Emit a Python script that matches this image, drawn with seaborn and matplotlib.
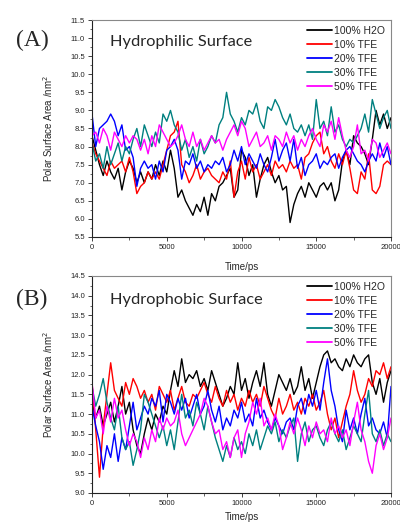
import numpy as np
import pandas as pd
import seaborn as sns
import matplotlib.pyplot as plt
from matplotlib.ticker import MultipleLocator

# time axis (ps)
time = list(range(0, 20001, 250))
labels = ["100% H2O", "10% TFE", "20% TFE", "30% TFE", "50% TFE"]
colors = ["black", "#ff0000", "#0000ff", "#008080", "#ff00ff"]

# (A) hydrophilic surface
a_h2o = [8.3, 7.9, 7.5, 7.2, 7.6, 7.3, 7.1, 7.4, 6.8, 7.3, 7.6, 7.4, 7.0, 7.3, 7.0, 7.3, 7.1, 7.5, 7.2, 7.6,
         7.3, 7.9, 7.4, 6.6, 6.8, 6.5, 6.3, 6.1, 6.4, 6.2, 6.6, 6.1, 6.7, 6.5, 6.9, 7.0, 7.2, 7.4, 6.6, 6.8,
         7.9, 7.7, 7.2, 7.5, 6.6, 7.1, 7.5, 7.7, 7.3, 7.0, 7.2, 6.8, 6.9, 5.9, 6.4, 6.7, 6.9, 6.6, 7.0, 6.8,
         6.6, 6.9, 7.0, 6.8, 7.0, 6.5, 6.8, 7.6, 7.9, 7.5, 8.3, 8.1, 8.0, 7.8, 7.5, 8.2, 9.0, 8.6, 8.9, 8.5, 8.8]
a_tfe10 = [8.1, 7.8, 7.6, 7.4, 7.2, 7.6, 7.4, 7.5, 7.6, 7.3, 7.7, 7.3, 6.7, 6.9, 7.0, 7.3, 7.1, 7.3, 7.1, 7.5,
           7.9, 8.3, 8.4, 8.7, 7.5, 7.3, 7.0, 7.2, 7.5, 7.1, 7.3, 7.4, 7.2, 7.1, 7.0, 7.3, 7.1, 7.6, 6.6, 7.3,
           7.6, 7.1, 7.7, 7.3, 7.5, 7.1, 7.3, 7.5, 7.2, 7.6, 7.4, 7.5, 7.3, 7.6, 7.4, 7.5, 7.1, 7.7, 7.8, 8.1,
           8.3, 8.4, 7.8, 8.0, 7.6, 7.4, 7.8, 7.5, 7.9, 7.4, 6.8, 6.7, 7.3, 7.1, 7.8, 6.8, 6.7, 6.9, 7.5, 7.6, 7.5]
a_tfe20 = [8.9, 8.0, 8.5, 8.6, 8.7, 8.9, 8.7, 8.3, 8.6, 7.9, 8.0, 7.7, 6.9, 7.4, 7.6, 7.4, 7.5, 7.1, 7.6, 7.3,
           7.9, 8.0, 8.2, 7.9, 7.1, 7.6, 7.5, 7.8, 7.4, 7.6, 7.3, 7.5, 7.4, 7.6, 7.5, 7.7, 7.3, 7.5, 7.9, 7.6,
           8.0, 7.5, 7.8, 7.6, 7.4, 7.8, 7.5, 7.3, 7.7, 8.2, 7.6, 7.9, 8.1, 7.6, 8.2, 7.4, 7.7, 7.2, 7.5, 7.6,
           7.8, 7.4, 7.6, 7.5, 7.7, 7.8, 7.4, 7.7, 7.9, 8.0, 7.8, 7.6, 7.5, 7.3, 7.6, 7.8, 7.6, 8.1, 7.7, 8.0, 7.5]
a_tfe30 = [8.1, 7.6, 7.8, 7.4, 8.0, 7.5, 7.8, 8.1, 7.6, 8.0, 7.8, 8.2, 8.5, 8.0, 8.6, 8.3, 8.0, 8.4, 8.1, 8.9,
           8.7, 9.0, 8.6, 8.4, 7.9, 8.2, 7.7, 8.0, 7.6, 8.2, 7.8, 8.0, 8.3, 8.1, 8.6, 8.8, 9.5, 8.9, 8.7, 8.4,
           8.8, 8.6, 9.0, 8.9, 9.2, 8.7, 8.5, 9.1, 9.0, 9.3, 9.1, 8.8, 8.6, 8.9, 8.5, 8.4, 8.6, 8.3, 8.6, 8.2,
           9.3, 8.5, 8.7, 8.3, 9.1, 8.4, 8.6, 8.2, 8.0, 8.2, 8.1, 8.3, 8.5, 8.9, 8.4, 9.3, 8.9, 8.5, 8.8, 9.0, 8.5]
a_tfe50 = [8.3, 8.4, 8.1, 8.5, 8.3, 7.9, 8.4, 8.2, 8.0, 8.3, 8.1, 8.3, 8.2, 7.9, 8.2, 7.8, 8.3, 8.0, 8.6, 8.4,
           8.2, 8.0, 8.1, 8.3, 8.6, 8.2, 8.0, 8.4, 8.0, 8.2, 7.9, 8.1, 8.3, 8.1, 8.2, 7.9, 8.2, 8.4, 8.6, 8.3,
           8.7, 8.5, 8.0, 8.2, 8.4, 8.0, 8.1, 8.3, 7.9, 8.3, 8.2, 8.0, 8.4, 8.1, 8.3, 7.9, 8.2, 8.0, 8.3, 8.5,
           8.2, 8.0, 8.6, 8.4, 8.7, 8.2, 8.8, 8.3, 7.9, 7.7, 8.0, 8.6, 7.8, 7.9, 7.6, 8.2, 8.1, 7.7, 7.9, 8.1, 7.8]

# (B) hydrophobic surface
b_h2o = [11.3, 10.9, 11.2, 10.7, 11.0, 11.3, 10.8, 11.2, 11.7, 11.0, 11.3, 10.6, 10.2, 10.0, 10.5, 10.9, 10.6,
         11.0, 10.8, 11.2, 11.0, 11.6, 12.1, 11.7, 12.4, 11.8, 12.0, 11.9, 12.1, 11.7, 11.9, 11.6, 12.1, 11.8,
         11.5, 11.2, 11.4, 11.7, 11.5, 12.3, 11.6, 11.9, 11.4, 11.8, 12.1, 11.7, 12.3, 11.5, 11.2, 11.6, 12.0,
         11.8, 11.6, 11.9, 11.5, 11.7, 12.2, 11.6, 11.9, 11.4, 11.8, 12.2, 12.5, 12.6, 12.3, 12.4, 12.2, 12.1,
         12.4, 12.2, 12.5, 12.3, 12.2, 12.4, 12.5, 11.8, 11.5, 11.9, 11.3, 11.8, 12.1]
b_tfe10 = [11.8, 10.6, 9.4, 10.7, 11.5, 12.3, 11.6, 11.4, 11.2, 11.8, 11.5, 11.9, 11.7, 11.4, 11.6, 11.3, 11.5,
           11.1, 11.7, 11.5, 11.3, 11.6, 11.1, 11.4, 11.7, 11.3, 11.2, 11.5, 11.4, 11.6, 11.8, 11.5, 11.3, 11.7,
           11.4, 11.2, 11.6, 11.3, 11.5, 11.1, 11.4, 11.2, 11.6, 11.3, 11.5, 11.2, 11.7, 11.4, 11.1, 10.9, 11.4,
           11.0, 11.2, 11.5, 11.1, 11.3, 11.0, 11.4, 11.2, 11.5, 11.1, 11.3, 11.6, 11.0, 10.6, 10.9, 10.4, 10.8,
           11.2, 11.5, 12.1, 11.6, 11.3, 11.5, 11.9, 11.7, 12.1, 12.0, 12.3, 11.9, 12.2]
b_tfe20 = [11.2, 10.7, 10.3, 9.6, 10.2, 9.9, 10.5, 9.8, 10.4, 10.1, 10.7, 11.3, 10.6, 10.9, 11.2, 11.0, 11.4,
           11.2, 11.6, 10.8, 11.5, 11.3, 11.0, 11.4, 11.1, 11.4, 10.9, 11.2, 11.5, 11.0, 11.2, 11.6, 11.1, 10.8,
           11.2, 10.6, 10.9, 10.7, 11.1, 10.9, 11.3, 10.8, 11.0, 10.7, 11.4, 10.9, 11.1, 10.8, 10.6, 10.9, 10.7,
           10.5, 10.8, 10.9, 10.6, 11.2, 11.4, 11.0, 11.5, 11.2, 11.6, 11.1, 11.8, 12.4, 11.6, 11.2, 10.6, 10.3,
           11.1, 10.6, 10.9, 10.5, 11.0, 11.4, 10.7, 10.9, 10.6, 10.5, 10.8, 10.4, 11.7]
b_tfe30 = [11.7, 11.2, 11.5, 11.9, 11.3, 10.9, 10.6, 11.2, 10.4, 10.1, 10.3, 9.7, 10.1, 10.6, 11.5, 11.3, 11.0,
           10.7, 10.4, 10.7, 10.2, 10.6, 10.1, 10.8, 11.5, 10.9, 11.1, 10.7, 11.3, 11.0, 10.6, 11.2, 10.8, 10.4,
           10.1, 9.8, 10.2, 9.9, 10.4, 10.1, 10.3, 10.0, 10.5, 10.2, 10.6, 10.1, 10.4, 10.7, 10.5, 10.8, 10.3,
           10.6, 10.4, 10.7, 10.9, 9.8, 10.5, 10.8, 10.3, 10.6, 10.7, 10.4, 10.2, 10.6, 10.8, 10.5, 10.3, 10.6,
           10.1, 10.4, 10.7, 10.5, 10.3, 11.0, 11.6, 10.5, 10.3, 10.6, 10.2, 10.5, 10.3]
b_tfe50 = [11.8, 10.9, 11.1, 10.5, 11.2, 10.8, 11.4, 10.9, 11.1, 10.6, 10.2, 10.5, 10.3, 9.9, 10.4, 10.1, 10.6,
           10.3, 10.9, 10.6, 10.9, 10.7, 10.8, 11.1, 10.5, 10.2, 10.4, 10.6, 10.8, 11.0, 11.4, 11.2, 10.8, 10.5,
           10.6, 10.1, 10.3, 9.9, 10.4, 10.6, 9.9, 10.5, 10.8, 11.3, 11.0, 11.4, 10.7, 10.9, 10.6, 11.0, 10.7,
           10.1, 10.4, 10.8, 10.5, 10.9, 10.6, 10.2, 10.7, 10.4, 10.8, 10.5, 10.6, 10.3, 10.9, 10.5, 10.7, 10.4,
           10.6, 10.2, 10.8, 11.3, 10.6, 10.3, 9.8, 9.5, 10.2, 10.5, 10.1, 10.4, 10.9]


def long_df(series):
    parts = []
    for lab, vals in zip(labels, series):
        parts.append(pd.DataFrame({"time": time, "area": vals, "system": lab}))
    return pd.concat(parts, ignore_index=True)


sns.set_style("ticks")
plt.rcParams['font.family'] = ['Liberation Sans', 'DejaVu Sans']

fig = plt.figure(figsize=(4.0, 5.25), dpi=100)
ax_a = fig.add_axes([0.23, 0.5486, 0.7475, 0.4133])
ax_b = fig.add_axes([0.23, 0.0610, 0.7475, 0.4133])

panels = [
    (ax_a, [a_h2o, a_tfe10, a_tfe20, a_tfe30, a_tfe50], (5.5, 11.5), "(A)", "Hydrophilic Surface", 0.922, 8),
    (ax_b, [b_h2o, b_tfe10, b_tfe20, b_tfe30, b_tfe50], (9.0, 14.5), "(B)", "Hydrophobic Surface", 0.430, 4),
]

for ax, series, ylim, tag, title, ty, xpad in panels:
    df = long_df(series)
    sns.lineplot(data=df, x="time", y="area", hue="system", palette=colors,
                 linewidth=1.0, ax=ax, legend=True)
    ax.set_xlim(0, 20000)
    ax.set_ylim(*ylim)
    ax.xaxis.set_major_locator(MultipleLocator(5000))
    ax.xaxis.set_minor_locator(MultipleLocator(2500))
    ax.yaxis.set_major_locator(MultipleLocator(0.5))
    ax.yaxis.set_minor_locator(MultipleLocator(0.25))
    ax.tick_params(which="major", direction="out", length=3, width=0.6, labelsize=5.5,
                   colors="#222222", pad=2)
    ax.tick_params(which="minor", direction="out", length=1.8, width=0.5)
    ax.yaxis.set_major_formatter(plt.FormatStrFormatter("%.1f"))
    for side, sp in ax.spines.items():
        sp.set_linewidth(0.8)
        sp.set_color("#222222" if side in ("left", "bottom") else "#888888")
    ax.set_xlabel("Time/ps", fontsize=7, labelpad=xpad)
    ax.set_ylabel("Polar Surface Area /nm$^2$", fontsize=7, labelpad=11)
    leg = ax.legend(loc="upper right", frameon=False, fontsize=7.5, handlelength=2.4,
                    handletextpad=0.25, labelspacing=0.38, borderaxespad=0.15)
    for line in leg.get_lines():
        line.set_linewidth(1.3)
    fig.text(0.04, ty, tag, fontsize=17, family="Liberation Serif", va="center")
    fig.text(0.276, ty - 0.002, title, fontsize=11.8, family="Lato", va="center")

fig.savefig("out.png", dpi=100)
